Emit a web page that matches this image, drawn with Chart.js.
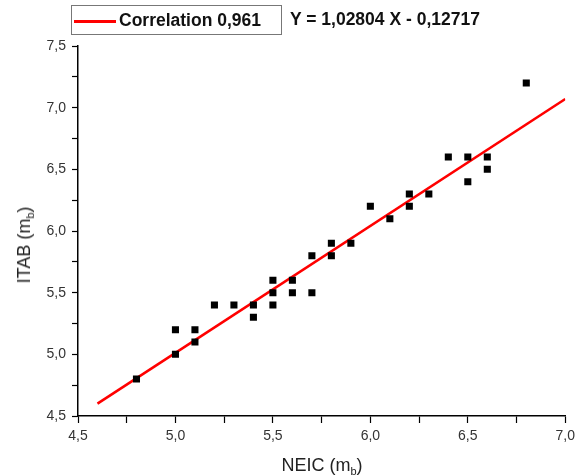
<!DOCTYPE html>
<html>
<head>
<meta charset="utf-8">
<script src="https://cdn.jsdelivr.net/npm/chart.js@4"></script>
<style>
  body { margin: 0; background: #fff; }
  #wrap { position: relative; width: 580px; height: 476px; font-family: "Liberation Sans", Arial, sans-serif; color: #111; }
  #legend_box { position: absolute; left: 71px; top: 5px; width: 209px; height: 28px; border: 1px solid #777; box-sizing: content-box; }
  #legend_line { position: absolute; left: 2px; top: 14px; width: 42px; height: 3px; background: #ff0000; }
  #legend_text { position: absolute; left: 47px; top: 4px; font-weight: bold; font-size: 17.5px; line-height: 20px; white-space: nowrap; }
  #equation { position: absolute; left: 290px; top: 9px; font-weight: bold; font-size: 17.5px; line-height: 20px; white-space: nowrap; }
  .axis_title { position: absolute; font-size: 18px; line-height: 18px; white-space: nowrap; color: #222; }
  .axis_title sub { font-size: 11px; vertical-align: -4px; line-height: 0; }
  #x_title { left: 322px; top: 465px; transform: translate(-50%, -50%); }
  #y_title { left: 24px; top: 245px; transform: translate(-50%, -50%) rotate(-90deg); }
</style>
</head>
<body>
<div id="wrap">
  <canvas id="scatter_chart" width="580" height="476"></canvas>
  <div id="legend_box"><span id="legend_line"></span><span id="legend_text">Correlation 0,961</span></div>
  <div id="equation">Y = 1,02804 X - 0,12717</div>
  <div id="x_title" class="axis_title">NEIC (m<sub>b</sub>)</div>
  <div id="y_title" class="axis_title">ITAB (m<sub>b</sub>)</div>
</div>
<script>
// magnitudes (NEIC on x, ITAB on y)
const neic_mb = [
  4.8, 5.0, 5.0, 5.1, 5.1, 5.2, 5.3, 5.4, 5.4, 5.5,
  5.5, 5.5, 5.6, 5.6, 5.7, 5.7, 5.8, 5.8, 5.9, 6.0,
  6.1, 6.2, 6.2, 6.3, 6.4, 6.5, 6.5, 6.6, 6.6, 6.8,
];
const itab_mb = [
  4.8, 5.0, 5.2, 5.1, 5.2, 5.4, 5.4, 5.4, 5.3, 5.4,
  5.5, 5.6, 5.5, 5.6, 5.5, 5.8, 5.8, 5.9, 5.9, 6.2,
  6.1, 6.2, 6.3, 6.3, 6.6, 6.6, 6.4, 6.6, 6.5, 7.2,
];

// ends of the red fit line
const fit_x = [4.6, 7.0];
const fit_y = [4.60, 7.07];

const axis_min_x = 4.5, axis_max_x = 7.0;
const axis_min_y = 4.5, axis_max_y = 7.5;

const font_family = '"Liberation Sans", Arial, sans-serif';

const fmt_tick = (v) => {
  if (Math.abs(v * 2 - Math.round(v * 2)) > 1e-6) return '';
  return v.toFixed(1).replace('.', ',');
};

const data_scatter = {
  datasets: [{
    label: 'ITAB',
    data: neic_mb.map((x, i) => ({ x: x, y: itab_mb[i] })),
    pointStyle: 'rect',
    pointRadius: 5,
    backgroundColor: '#000',
    borderColor: '#000',
    borderWidth: 0,
    order: 0,
  },{
    type: 'line',
    label: 'Correlation 0,961',
    data: fit_x.map((x, i) => ({ x: x, y: fit_y[i] })),
    borderColor: '#ff0000',
    backgroundColor: '#ff0000',
    borderWidth: 2.6,
    pointRadius: 0,
    fill: false,
    order: 1,
  }]
};

const config_scatter = {
  type: 'scatter',
  data: data_scatter,
  options: {
    responsive: false,
    animation: false,
    devicePixelRatio: 1,
    layout: { padding: { left: 0, top: 46, right: 13, bottom: 0 } },
    plugins: { legend: { display: false }, tooltip: { enabled: false } },
    scales: {
      x: {
        type: 'linear',
        min: axis_min_x,
        max: axis_max_x,
        afterFit: (scale) => { scale.height = 60; },
        grid: { drawOnChartArea: false, color: '#000', tickLength: 7, tickWidth: 1.2 },
        border: { color: '#000', width: 1.5 },
        ticks: {
          stepSize: 0.25,
          autoSkip: false,
          maxRotation: 0,
          padding: 5,
          color: '#333',
          font: { family: font_family, size: 14 },
          callback: fmt_tick,
        },
      },
      y: {
        type: 'linear',
        min: axis_min_y,
        max: axis_max_y,
        afterFit: (scale) => { scale.width = 78; },
        grid: { drawOnChartArea: false, color: '#000', tickLength: 6, tickWidth: 1.2 },
        border: { color: '#000', width: 1.5 },
        ticks: {
          stepSize: 0.25,
          autoSkip: false,
          padding: 6,
          color: '#333',
          font: { family: font_family, size: 14 },
          callback: fmt_tick,
        },
      },
    },
  },
};

const scatter_chart = new Chart(
  document.getElementById('scatter_chart'),
  config_scatter
);
</script>
</body>
</html>
